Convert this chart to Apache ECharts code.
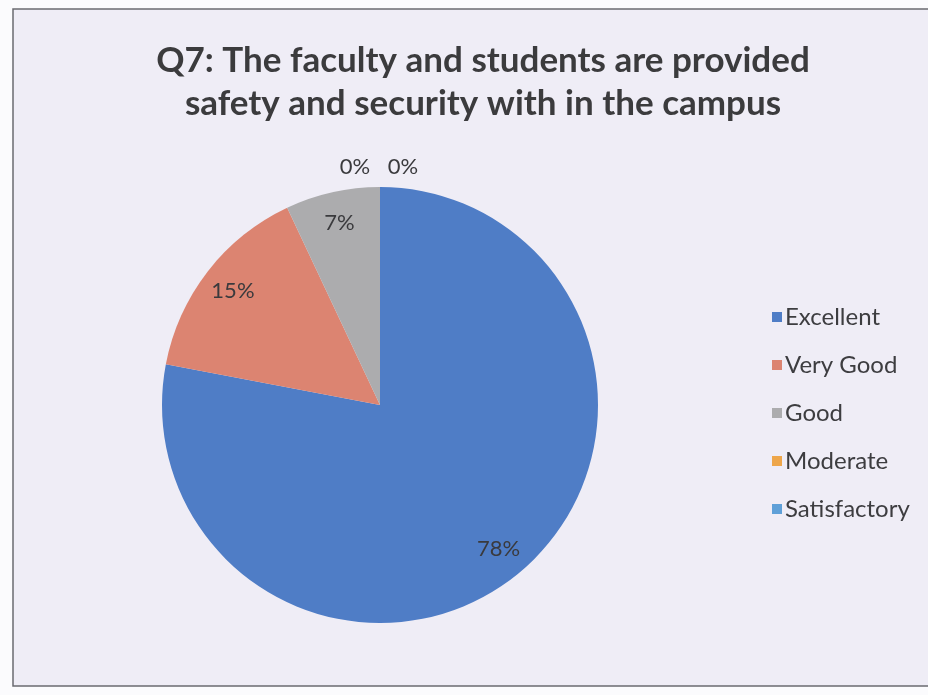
<!DOCTYPE html>
<html>
<head>
<meta charset="utf-8">
<script src="https://cdn.jsdelivr.net/npm/echarts@6/dist/echarts.min.js"></script>
<style>html,body{margin:0;padding:0;background:#fbfbfd;}#c{width:928px;height:695px;}</style>
</head>
<body>
<div id="c"></div>
<script>
const categories = ['Excellent', 'Very Good', 'Good', 'Moderate', 'Satisfactory'];
const values = [78, 15, 7, 0, 0];
const colors = ['#4f7dc6', '#dc8471', '#acacae', '#eea64a', '#5fa0d8'];
const titleLines = ['Q7: The faculty and students are provided', 'safety and security with in the campus'];

const CX = 380, CY = 405, R = 218;
const FONT = 'Lato, "Open Sans", sans-serif';

const chart = echarts.init(document.getElementById('c'));
const mainData = categories.map((n, i) => ({ name: n, value: values[i], itemStyle: { color: colors[i] } }));
const zeroOffsets = { 3: [-25, -52], 4: [23, -52] };
const labelData = categories.map((n, i) => ({
  name: n, value: values[i],
  label: zeroOffsets[i] ? { offset: zeroOffsets[i] } : {}
}));

chart.setOption({
  backgroundColor: '#fbfbfd',
  animation: false,
  graphic: [{
    type: 'rect', z: -10,
    shape: { x: 13, y: 9, width: 940, height: 677 },
    style: { fill: '#efedf6', stroke: '#6b6b70', lineWidth: 1.5 }
  }],
  title: {
    text: titleLines.join('\n'),
    left: 478, top: 34, textAlign: 'center',
    textStyle: { fontFamily: FONT, fontWeight: 'bold', fontSize: 35, lineHeight: 43, color: '#3b3b3d' }
  },
  legend: {
    orient: 'vertical', left: 767, top: 300,
    itemWidth: 10, itemHeight: 10, itemGap: 24,
    icon: 'rect',
    data: categories,
    textStyle: { fontFamily: FONT, fontSize: 24, color: '#3d3d40', padding: [0, 0, 0, -2] }
  },
  series: [
    {
      type: 'pie', center: [CX, CY], radius: [0, R],
      startAngle: 90, clockwise: true,
      avoidLabelOverlap: false,
      label: { show: false }, labelLine: { show: false },
      itemStyle: { borderWidth: 0 },
      emphasis: { disabled: true },
      data: mainData
    },
    {
      type: 'pie', center: [CX, CY], radius: [R * 0.68, R],
      startAngle: 90, clockwise: true, silent: true,
      avoidLabelOverlap: false, legendHoverLink: false,
      itemStyle: { color: 'rgba(0,0,0,0)', borderWidth: 0 },
      label: { show: true, position: 'inside', formatter: '{c}%', fontFamily: FONT, fontSize: 22, color: '#3a3a3d' },
      labelLine: { show: false },
      emphasis: { disabled: true },
      tooltip: { show: false },
      data: labelData
    }
  ]
});
</script>
</body>
</html>
